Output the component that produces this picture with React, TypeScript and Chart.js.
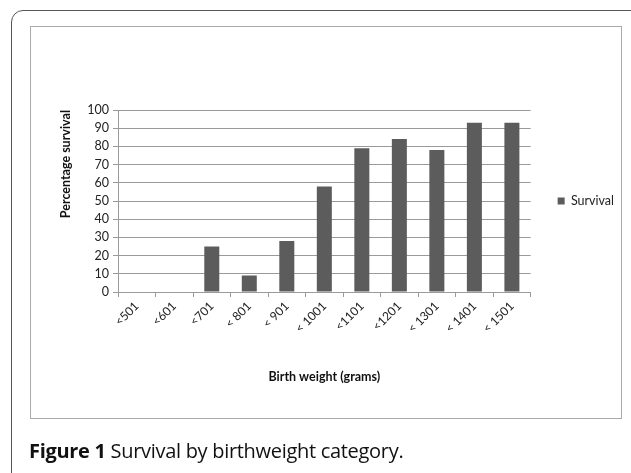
import React, { useEffect, useRef } from "react";
import { Chart, registerables } from "chart.js";

Chart.register(...registerables);

const categories = ["<501", "<601", "<701", "< 801", "< 901", "< 1001", "<1101", "<1201", "< 1301", "< 1401", "< 1501"];
const survival = [0, 0, 25, 9, 28, 58, 79, 84, 78, 93, 93];
const seriesName = "Survival";
const yTitle = "Percentage survival";
const xTitle = "Birth weight (grams)";

const FONT = "Lato, 'Open Sans', sans-serif";

// Centre the legend on the plot area (as in the spreadsheet original) and leave a gap after the plot.
const legendPlace = {
  id: "legendPlace",
  afterLayout(chart: any) {
    const l = chart.legend;
    const ca = chart.chartArea;
    if (!l || !ca) return;
    const dy = (ca.top + ca.bottom) / 2 - (l.top + l.bottom) / 2;
    l.top += dy;
    l.bottom += dy;
    const dx = ca.right + 17 - l.left;
    l.left += dx;
    l.right += dx;
  },
};

export default function App() {
  const ref = useRef<HTMLCanvasElement | null>(null);

  useEffect(() => {
    if (!ref.current) return;
    const chart = new Chart(ref.current, {
      type: "bar",
      data: {
        labels: categories,
        datasets: [
          {
            label: seriesName,
            data: survival,
            backgroundColor: "#5c5c5c",
            borderWidth: 0,
            barPercentage: 0.4,
            categoryPercentage: 1,
          },
        ],
      },
      plugins: [legendPlace],
      options: {
        responsive: false,
        animation: false,
        devicePixelRatio: 1,
        layout: { padding: { left: 54, top: 110, bottom: 86, right: 24 } },
        plugins: {
          tooltip: { enabled: false },
          legend: {
            position: "right",
            labels: {
              boxWidth: 7,
              boxHeight: 7,
              padding: 10,
              color: "#222",
              font: { family: FONT, size: 12.5 },
            },
          },
        },
        scales: {
          x: {
            grid: { display: true, drawOnChartArea: false, drawTicks: true, tickLength: 5, color: "#9a9a9a", offset: true },
            border: { display: true, color: "#9a9a9a" },
            ticks: {
              autoSkip: false,
              maxRotation: 45,
              minRotation: 45,
              color: "#222",
              font: { family: FONT, size: 12 },
              padding: 2,
            },
            title: {
              display: true,
              text: xTitle,
              color: "#111",
              font: { family: FONT, size: 12.5, weight: "bold" },
              padding: { top: 4, bottom: 3 },
            },
            afterFit: (scale: any) => {
              scale.height = 95;
            },
          },
          y: {
            min: 0,
            max: 100,
            ticks: { stepSize: 10, color: "#222", font: { family: FONT, size: 12.5 }, padding: 4 },
            grid: { color: "#9a9a9a", tickLength: 5, drawTicks: true },
            border: { display: true, color: "#9a9a9a" },
            title: {
              display: true,
              text: yTitle,
              align: "end",
              color: "#111",
              font: { family: FONT, size: 12.5, weight: "bold" },
              padding: { top: 4, bottom: 4 },
            },
            afterFit: (scale: any) => {
              scale.width = 64;
            },
          },
        },
      },
    });
    return () => chart.destroy();
  }, []);

  return (
    <div style={{ position: "absolute", left: 0, top: 0, width: 631, height: 473, overflow: "hidden", background: "#fff" }}>
      <div
        style={{
          position: "absolute",
          left: 11,
          top: 10,
          width: 640,
          height: 520,
          border: "1px solid #555",
          borderRadius: 12,
          boxSizing: "border-box",
        }}
      />
      <div
        style={{
          position: "absolute",
          left: 30,
          top: 26,
          width: 592,
          height: 393,
          border: "1px solid #aaa",
          boxSizing: "border-box",
        }}
      />
      <canvas ref={ref} width={631} height={473} style={{ position: "absolute", left: 0, top: 0, width: 631, height: 473 }} />
      <div
        style={{
          position: "absolute",
          left: 29,
          top: 439,
          fontFamily: "'Open Sans', sans-serif",
          fontSize: 20,
          letterSpacing: "-0.3px",
          lineHeight: "24px",
          color: "#111",
          whiteSpace: "nowrap",
        }}
      >
        <b>Figure 1</b> Survival by birthweight category.
      </div>
    </div>
  );
}
